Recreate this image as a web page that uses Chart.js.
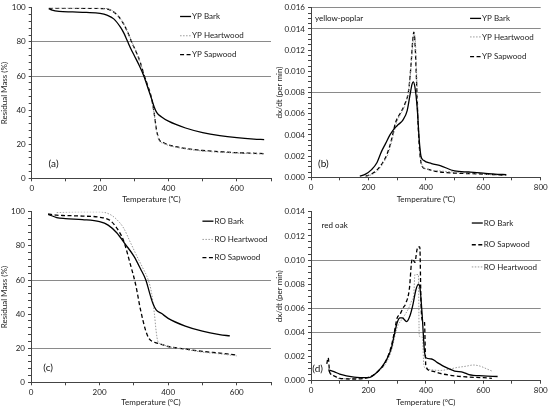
<!DOCTYPE html>
<html lang="en">
  <head>
    <meta charset="UTF-8" />
    <title>TGA / DTG curves</title>
    <script src="https://cdn.jsdelivr.net/npm/chart.js"></script>
    <style>
      body { margin: 0; background: #fff; }
      .wrap { position: relative; width: 550px; height: 407px; }
      canvas { position: absolute; }
    </style>
  </head>
  <body>
    <div class="wrap">
      <canvas id="panelA" width="275" height="204" style="left:0;top:0"></canvas>
      <canvas id="panelB" width="275" height="204" style="left:275px;top:0"></canvas>
      <canvas id="panelC" width="275" height="203" style="left:0;top:204px"></canvas>
      <canvas id="panelD" width="275" height="203" style="left:275px;top:204px"></canvas>
    </div>
    <script>
      // (a) yellow-poplar residual mass
      const aBarkT = [50, 60, 80, 120, 160, 200, 220, 240, 260, 270, 280, 290, 300, 315, 328, 340, 350, 358, 366, 380, 400, 450, 500, 550, 600, 650, 680];
      const aBarkM = [99.5, 98.6, 97.9, 97.6, 97.3, 96.7, 95.7, 93.5, 88.5, 85, 80.5, 76, 72, 66, 60, 53, 47, 42, 38.5, 36, 33.5, 29.5, 26.8, 25, 23.8, 23, 22.7];
      const aHeartT = [50, 200, 225, 240, 255, 270, 283, 293, 305, 318, 328, 340, 350, 358, 365, 372, 385, 400, 450, 500, 550, 600, 680];
      const aHeartM = [100, 99.8, 99.3, 97.8, 95, 90.5, 85, 80, 74.5, 68, 61, 54, 47, 38, 28, 22.5, 20.5, 19.3, 17.2, 16, 15.3, 14.8, 14.2];
      const aSapT = [50, 200, 225, 240, 255, 270, 283, 293, 305, 318, 328, 340, 350, 358, 365, 372, 385, 400, 450, 500, 550, 600, 680];
      const aSapM = [99.8, 99.6, 99.1, 97.5, 94.7, 90.2, 84.7, 79.7, 74.3, 67.8, 61, 54, 47.5, 38.5, 28.5, 23, 21, 19.6, 17.5, 16.3, 15.6, 15, 14.5];

      // (b) yellow-poplar dx/dt
      const bBarkT = [170, 190, 210, 230, 245, 260, 275, 290, 305, 320, 335, 345, 352, 356, 362, 370, 377, 383, 392, 420, 450, 500, 550, 600, 640, 680];
      const bBarkR = [0.0001, 0.0003, 0.0007, 0.0014, 0.0024, 0.0032, 0.004, 0.0046, 0.005, 0.0054, 0.0063, 0.0078, 0.0088, 0.009, 0.0085, 0.0065, 0.0035, 0.002, 0.0016, 0.0013, 0.0011, 0.0006, 0.0005, 0.0004, 0.0003, 0.00025];
      const bHeartT = [195, 215, 235, 255, 270, 285, 300, 315, 330, 342, 350, 356, 360, 364, 369, 375, 382, 390, 400, 450, 500, 550, 590, 600, 680];
      const bHeartR = [0.0001, 0.0003, 0.0007, 0.0015, 0.0023, 0.0038, 0.0053, 0.0061, 0.007, 0.0085, 0.011, 0.013, 0.0135, 0.0126, 0.009, 0.0045, 0.0018, 0.001, 0.0008, 0.0006, 0.0005, 0.0004, 0.0004, 0.0003, 0.0002];
      const bSapT = [190, 210, 230, 250, 265, 280, 295, 310, 325, 340, 348, 354, 358, 362, 367, 373, 380, 388, 400, 450, 500, 550, 600, 680];
      const bSapR = [0.0001, 0.0003, 0.0007, 0.0014, 0.0022, 0.0035, 0.0052, 0.006, 0.0068, 0.0082, 0.0105, 0.0128, 0.0137, 0.0128, 0.0095, 0.005, 0.002, 0.001, 0.0008, 0.0005, 0.0004, 0.00035, 0.0003, 0.0002];

      // (c) red oak residual mass
      const cBarkT = [50, 75, 100, 150, 200, 225, 250, 275, 300, 320, 335, 345, 355, 365, 380, 400, 450, 500, 550, 580];
      const cBarkM = [98.5, 96.6, 96, 95.4, 94.2, 92.2, 87.7, 81, 74, 66.3, 60, 53, 46.5, 42.5, 40.5, 37.5, 33, 30, 28, 27.2];
      const cHeartT = [75, 100, 150, 200, 230, 250, 270, 290, 310, 325, 342, 352, 360, 365, 370, 380, 400, 450, 500, 550, 600];
      const cHeartM = [99.5, 99.8, 100, 100, 98.5, 95.5, 90.5, 82, 73.5, 67.5, 60, 52, 40, 30, 24, 22.5, 21, 19.3, 17.7, 16.7, 15.5];
      const cSapT = [50, 75, 100, 150, 200, 230, 250, 270, 290, 305, 320, 335, 345, 360, 380, 400, 450, 500, 550, 600];
      const cSapM = [98.8, 98, 97.8, 97.5, 96.8, 95, 90.5, 83, 69, 57.5, 42, 30, 25.5, 23.5, 22.3, 21, 19.5, 18.1, 17.1, 16];

      // (d) red oak dx/dt
      const dBarkT = [60, 80, 100, 150, 200, 230, 260, 280, 290, 300, 310, 318, 333, 345, 355, 365, 374, 380, 387, 395, 400, 420, 440, 470, 500, 530, 550, 600, 650];
      const dBarkR = [0.0009, 0.00075, 0.00055, 0.0003, 0.00025, 0.0007, 0.0016, 0.0027, 0.0038, 0.0048, 0.0052, 0.0052, 0.0049, 0.0054, 0.0063, 0.0075, 0.008, 0.0076, 0.0055, 0.0025, 0.0019, 0.0018, 0.0015, 0.0011, 0.0008, 0.0007, 0.0005, 0.0004, 0.00035];
      const dSapT = [55, 60, 65, 80, 100, 150, 200, 230, 260, 280, 290, 300, 310, 320, 330, 343, 350, 354, 362, 368, 372, 379, 383, 388, 395, 400, 420, 450, 500, 550, 600, 630];
      const dSapR = [0.0014, 0.0019, 0.0007, 0.0004, 0.0002, 0.00014, 0.00027, 0.0007, 0.0016, 0.0029, 0.004, 0.0052, 0.0055, 0.006, 0.0064, 0.0077, 0.0098, 0.0101, 0.0098, 0.0107, 0.0111, 0.0111, 0.0065, 0.005, 0.0049, 0.0012, 0.0008, 0.0006, 0.0004, 0.0003, 0.00025, 0.0002];
      const dHeartT = [60, 80, 100, 150, 200, 230, 260, 280, 300, 320, 340, 350, 358, 362, 374, 377, 388, 393, 400, 420, 450, 480, 510, 540, 565, 590, 610, 630];
      const dHeartR = [0.0008, 0.0004, 0.00015, 0.0002, 0.0003, 0.0007, 0.0014, 0.0025, 0.0044, 0.0052, 0.006, 0.0066, 0.0072, 0.0088, 0.0088, 0.0037, 0.0036, 0.0013, 0.001, 0.0009, 0.00085, 0.00095, 0.0011, 0.0012, 0.0013, 0.0012, 0.001, 0.0008];

      const FONT = "Lato, 'Noto Sans', sans-serif";
      const pts = (xs, ys) => xs.map((x, i) => ({ x: x, y: ys[i] }));

      const STYLE = {
        bark: { borderColor: "#000", borderWidth: 1.3, borderDash: [] },
        heart: { borderColor: "#9a9a9a", borderWidth: 1, borderDash: [1.5, 1.5] },
        sap: { borderColor: "#000", borderWidth: 1.3, borderDash: [4, 2.5] },
      };

      function series(label, kind, xs, ys) {
        return {
          label: label,
          data: pts(xs, ys),
          ...STYLE[kind],
          pointRadius: 0,
          fill: false,
          cubicInterpolationMode: "monotone",
        };
      }

      // legend + panel notes drawn inside the plot area
      const notes = {
        id: "notes",
        afterDatasetsDraw(chart, args, opts) {
          const { ctx, scales } = chart;
          const x = scales.x, y = scales.y;
          ctx.save();
          ctx.textBaseline = "middle";
          ctx.font = "8px " + FONT;
          const lx = x.getPixelForValue(opts.legendX);
          chart.data.datasets.forEach((ds, i) => {
            const ly = y.getPixelForValue(opts.legendY[i]);
            ctx.strokeStyle = ds.borderColor;
            ctx.lineWidth = ds.borderWidth;
            ctx.setLineDash(ds.borderDash);
            ctx.beginPath();
            ctx.moveTo(lx, ly);
            ctx.lineTo(lx + 11, ly);
            ctx.stroke();
            ctx.fillStyle = "#222";
            ctx.textAlign = "left";
            ctx.fillText(ds.label, lx + 12, ly);
          });
          ctx.setLineDash([]);
          (opts.texts || []).forEach((t) => {
            ctx.font = t.size + "px " + FONT;
            ctx.textAlign = t.align;
            ctx.fillStyle = "#111";
            ctx.fillText(t.text, x.getPixelForValue(t.x), y.getPixelForValue(t.y));
          });
          ctx.restore();
        },
      };

      const near = (v, step) => Math.abs(v / step - Math.round(v / step)) < 1e-6;

      function makeChart(id, p) {
        const canvas = document.getElementById(id);
        return new Chart(canvas, {
          type: "line",
          data: { datasets: p.datasets },
          plugins: [notes],
          options: {
            responsive: false,
            animation: false,
            layout: { padding: { left: 0, right: p.padRight, top: p.padTop, bottom: 0 } },
            plugins: {
              legend: { display: false },
              tooltip: { enabled: false },
              notes: p.notes,
            },
            scales: {
              x: {
                type: "linear",
                min: 0,
                max: p.xMax,
                afterFit: (s) => { s.height = p.xHeight; },
                ticks: {
                  stepSize: 100,
                  autoSkip: false,
                  maxRotation: 0,
                  padding: 2,
                  color: "#222",
                  font: { family: FONT, size: 8 },
                  callback: (v) => (v % 200 === 0 ? v : ""),
                },
                grid: { color: "rgba(0,0,0,0)", tickColor: "#444", tickLength: 3 },
                border: { color: "#444", width: 1 },
                title: {
                  display: true,
                  text: p.xTitle,
                  color: "#222",
                  padding: 0,
                  font: { family: FONT, size: 8 },
                },
              },
              y: {
                min: 0,
                max: p.yMax,
                afterFit: (s) => { s.width = p.yWidth; },
                ticks: {
                  stepSize: p.yMinor,
                  autoSkip: false,
                  padding: 3,
                  color: "#222",
                  font: { family: FONT, size: 8 },
                  callback: (v) => (near(v, p.yMajor) ? p.fmt(v) : ""),
                },
                grid: {
                  color: (c) => (p.lines.some((l) => Math.abs(l - c.tick.value) < p.yMinor / 10) ? "#8a8a8a" : "rgba(0,0,0,0)"),
                  lineWidth: 1,
                  tickColor: "#444",
                  tickLength: 3,
                },
                border: { color: "#444", width: 1 },
                title: {
                  display: true,
                  text: p.yTitle,
                  color: "#222",
                  padding: 0,
                  font: { family: FONT, size: 8 },
                },
              },
            },
          },
        });
      }

      const fmtMass = (v) => String(Math.round(v));
      const fmtRate = (v) => v.toFixed(3);

      makeChart("panelA", {
        datasets: [
          series("YP Bark", "bark", aBarkT, aBarkM),
          series("YP Heartwood", "heart", aHeartT, aHeartM),
          series("YP Sapwood", "sap", aSapT, aSapM),
        ],
        xMax: 700, yMax: 100, yMinor: 4, yMajor: 20, fmt: fmtMass,
        lines: [80, 60],
        padRight: 4, padTop: 7.3, yWidth: 31.7, xHeight: 25.7,
        xTitle: "Temperature (ᵒC)", yTitle: "Residual Mass (%)",
        notes: {
          legendX: 434, legendY: [94.9, 83.6, 72.5],
          texts: [{ text: "(a)", x: 64, y: 8.4, size: 10, align: "center" }],
        },
      });

      makeChart("panelB", {
        datasets: [
          series("YP Bark", "bark", bBarkT, bBarkR),
          series("YP Heartwood", "heart", bHeartT, bHeartR),
          series("YP Sapwood", "sap", bSapT, bSapR),
        ],
        xMax: 800, yMax: 0.016, yMinor: 0.0005, yMajor: 0.002, fmt: fmtRate,
        lines: [0.016, 0.014, 0.008],
        padRight: 9.3, padTop: 6.7, yWidth: 36, xHeight: 26.7,
        xTitle: "Temperature (ᵒC)", yTitle: "dx/dt (per min)",
        notes: {
          legendX: 554, legendY: [0.015, 0.01325, 0.0114],
          texts: [
            { text: "yellow-poplar", x: 14, y: 0.015, size: 8, align: "left" },
            { text: "(b)", x: 43, y: 0.00125, size: 10, align: "center" },
          ],
        },
      });

      makeChart("panelC", {
        datasets: [
          series("RO Bark", "bark", cBarkT, cBarkM),
          series("RO Heartwood", "heart", cHeartT, cHeartM),
          series("RO Sapwood", "sap", cSapT, cSapM),
        ],
        xMax: 700, yMax: 100, yMinor: 4, yMajor: 20, fmt: fmtMass,
        lines: [60, 20],
        padRight: 4, padTop: 7.3, yWidth: 31, xHeight: 24.7,
        xTitle: "Temperature (°C)", yTitle: "Residual Mass (%)",
        notes: {
          legendX: 500, legendY: [94.5, 83.8, 73.1],
          texts: [{ text: "(c)", x: 50, y: 8.8, size: 10, align: "center" }],
        },
      });

      makeChart("panelD", {
        datasets: [
          series("RO Bark", "bark", dBarkT, dBarkR),
          series("RO Sapwood", "sap", dSapT, dSapR),
          series("RO Heartwood", "heart", dHeartT, dHeartR),
        ],
        xMax: 800, yMax: 0.014, yMinor: 0.0005, yMajor: 0.002, fmt: fmtRate,
        lines: [0.01, 0.006, 0.004],
        padRight: 9.3, padTop: 6, yWidth: 36, xHeight: 26.3,
        xTitle: "Temperature (°C)", yTitle: "dx/dt (per min)",
        notes: {
          legendX: 560, legendY: [0.01307, 0.01127, 0.00943],
          texts: [
            { text: "red oak", x: 37, y: 0.0129, size: 8, align: "left" },
            { text: "(d)", x: 23, y: 0.001, size: 10, align: "center" },
          ],
        },
      });
    </script>
  </body>
</html>
